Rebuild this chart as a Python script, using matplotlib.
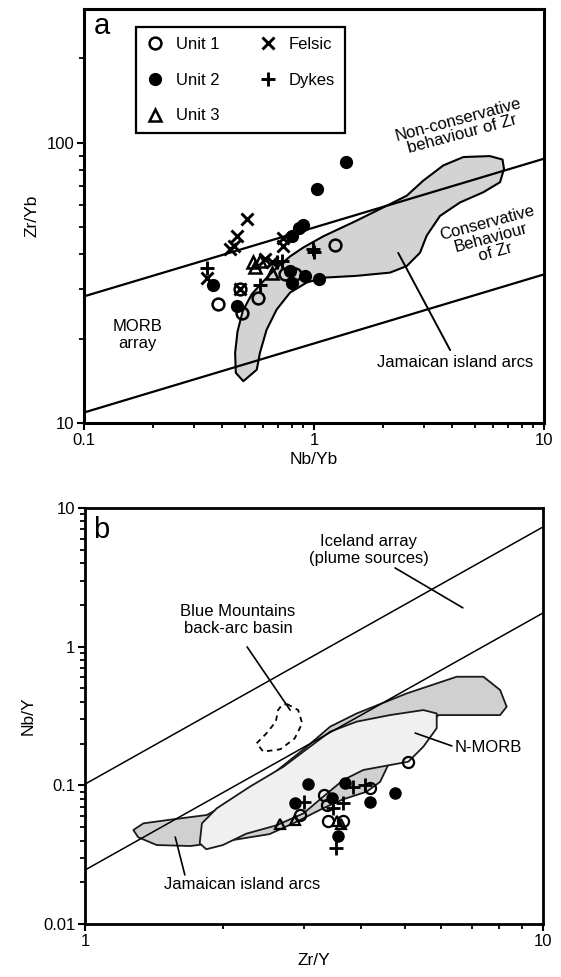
import matplotlib
matplotlib.use("Agg")
import matplotlib.pyplot as plt
from matplotlib.patches import Polygon
from matplotlib.ticker import FixedLocator, FixedFormatter, NullFormatter
import numpy as np

plt.rcParams['font.family'] = ['Liberation Sans', 'DejaVu Sans']

# ---------------- Panel a data: Nb/Yb vs Zr/Yb ----------------
a_unit1_x = [1.23, 0.384, 0.476, 0.485, 0.573, 0.748, 0.83]
a_unit1_y = [43.1, 26.5, 30.0, 24.7, 28.0, 33.9, 33.9]
a_unit2_x = [1.38, 1.03, 0.893, 0.863, 0.80, 0.365, 0.461, 0.787, 0.80, 0.914, 1.055]
a_unit2_y = [85.5, 68.4, 50.8, 49.6, 46.5, 31.2, 26.1, 34.8, 31.7, 33.5, 32.6]
a_unit3_x = [0.545, 0.555, 0.655, 0.58]
a_unit3_y = [37.4, 35.9, 34.4, 37.9]
a_felsic_x = [0.51, 0.461, 0.447, 0.43, 0.736, 0.736, 0.341, 0.612, 0.655, 0.476]
a_felsic_y = [53.4, 46.5, 42.8, 41.7, 45.9, 42.8, 33.0, 38.4, 37.4, 30.0]
a_dykes_x = [0.341, 0.993, 1.0, 0.58, 0.725, 0.69]
a_dykes_y = [35.8, 41.7, 40.6, 31.2, 37.9, 37.4]

a_line_x = [0.1, 10]
a_upper_y = [28.3, 87.7]
a_lower_y = [10.9, 33.9]

a_arc_x = [0.493, 0.564, 0.582, 0.622, 0.688, 0.787, 0.929, 1.098, 1.53, 2.14, 2.53,
           2.89, 3.09, 3.53, 4.31, 5.45, 6.44, 6.70, 6.60, 5.82, 4.46, 3.65, 2.99,
           2.53, 2.14, 1.53, 1.10, 0.899, 0.787, 0.688, 0.603, 0.536, 0.490, 0.465,
           0.454, 0.457]
a_arc_y = [14.1, 15.5, 17.8, 21.5, 25.4, 29.2, 31.7, 33.0, 33.5, 34.4, 36.3,
           40.5, 46.6, 54.8, 61.2, 66.6, 72.3, 80.7, 87.1, 89.6, 88.9, 83.0, 73.3,
           64.7, 60.4, 52.7, 46.4, 42.3, 39.3, 35.8, 32.1, 28.8, 25.1, 21.2,
           17.8, 15.1]

# ---------------- Panel b data: Zr/Y vs Nb/Y ----------------
b_unit1_x = [5.08, 4.19, 3.32, 3.37, 2.95, 3.40, 3.66]
b_unit1_y = [0.148, 0.095, 0.085, 0.072, 0.061, 0.055, 0.055]
b_unit2_x = [3.07, 3.70, 4.75, 4.19, 2.87, 3.46, 3.57]
b_unit2_y = [0.102, 0.104, 0.0885, 0.0763, 0.0741, 0.0805, 0.0431]
b_unit3_x = [2.66, 2.87, 3.63, 3.55]
b_unit3_y = [0.053, 0.056, 0.053, 0.055]
b_dykes_x = [3.85, 4.09, 3.0, 3.66, 3.54, 3.48]
b_dykes_y = [0.0977, 0.100, 0.0763, 0.074, 0.0351, 0.069]

b_line_x = [1, 10]
b_upper_y = [0.102, 7.3]
b_lower_y = [0.0245, 1.75]

b_arc_x = [1.275, 1.341, 1.559, 1.844, 2.18, 2.58, 3.05, 3.43, 3.92, 5.04, 6.48, 7.41,
           8.06, 8.33, 8.06, 7.04, 5.91, 5.12, 4.59, 4.41, 4.12, 3.66, 3.31, 2.90,
           2.53, 2.22, 2.00, 1.70, 1.434, 1.307]
b_arc_y = [0.0476, 0.0532, 0.0569, 0.0611, 0.0827, 0.122, 0.190, 0.265, 0.330, 0.460,
           0.607, 0.607, 0.487, 0.369, 0.321, 0.321, 0.321, 0.190, 0.140, 0.106,
           0.0899, 0.0793, 0.0683, 0.0547, 0.0445, 0.0415, 0.0392, 0.0365, 0.0371,
           0.0422]
b_morb_x = [1.78, 1.80, 1.94, 2.29, 2.71, 3.10, 3.43, 3.92, 4.63, 5.48, 5.86, 5.86,
            5.48, 5.08, 4.63, 4.05, 3.66, 3.31, 3.0, 2.62, 2.25, 2.00, 1.84]
b_morb_y = [0.0382, 0.0532, 0.0683, 0.0977, 0.136, 0.190, 0.244, 0.288, 0.321,
            0.349, 0.330, 0.258, 0.190, 0.148, 0.140, 0.129, 0.109, 0.0827, 0.0628,
            0.0515, 0.0448, 0.0371, 0.0346]
b_blue_x = [2.76, 2.92, 2.98, 2.87, 2.67, 2.45, 2.37, 2.49, 2.61, 2.64, 2.69]
b_blue_y = [0.386, 0.349, 0.280, 0.218, 0.182, 0.175, 0.201, 0.237, 0.288, 0.349, 0.379]

# ---------------- Figure ----------------
fig = plt.figure(figsize=(5.61, 9.77), dpi=100)
axa = fig.add_axes([84/561, 1-423/977, 460/561, 414/977])
axb = fig.add_axes([85/561, 1-924/977, 458/561, 416/977])

ms_c = 8.5
mew = 1.8
FS = 12


def style_axis(ax, spine_w):
    ax.set_xscale('log')
    ax.set_yscale('log')
    for s in ['left', 'bottom', 'top', 'right']:
        ax.spines[s].set_linewidth(spine_w)
        ax.spines[s].set_color('black')
    ax.tick_params(which='both', direction='out', top=False, right=False,
                   labelsize=12, colors='black', pad=2)
    ax.tick_params(which='major', length=5, width=1.5)
    ax.tick_params(which='minor', length=3.5, width=1.3)


# ---- panel a ----
style_axis(axa, 2.2)
axa.set_xlim(0.1, 10)
axa.set_ylim(10, 300)
axa.xaxis.set_major_locator(FixedLocator([0.1, 1, 10]))
axa.xaxis.set_major_formatter(FixedFormatter(['0.1', '1', '10']))
axa.xaxis.set_minor_locator(FixedLocator([0.2, 0.3, 0.4, 0.5, 0.6, 0.7, 0.8, 0.9,
                                          2, 3, 4, 5, 6, 7, 8, 9]))
axa.xaxis.set_minor_formatter(NullFormatter())
axa.yaxis.set_major_locator(FixedLocator([10, 100]))
axa.yaxis.set_major_formatter(FixedFormatter(['10', '100']))
axa.yaxis.set_minor_locator(FixedLocator([20, 30, 40, 50, 60, 70, 80, 90, 200]))
axa.yaxis.set_minor_formatter(NullFormatter())

axa.add_patch(Polygon(np.column_stack([a_arc_x, a_arc_y]), closed=True,
                      facecolor='#d3d3d3', edgecolor='black', lw=1.5,
                      joinstyle='round', zorder=2))
axa.plot(a_line_x, a_upper_y, color='black', lw=1.6, zorder=3)
axa.plot(a_line_x, a_lower_y, color='black', lw=1.6, zorder=3)

hu1, = axa.plot(a_unit1_x, a_unit1_y, 'o', ms=ms_c, mfc='none', mec='black', mew=mew,
                ls='none', zorder=5, label='Unit 1')
hu2, = axa.plot(a_unit2_x, a_unit2_y, 'o', ms=ms_c, mfc='black', mec='black', mew=1,
                ls='none', zorder=5, label='Unit 2')
hu3, = axa.plot(a_unit3_x, a_unit3_y, '^', ms=ms_c, mfc='none', mec='black', mew=mew,
                ls='none', zorder=5, label='Unit 3')
hfe, = axa.plot(a_felsic_x, a_felsic_y, 'x', ms=ms_c, mec='black', mew=2.1,
                ls='none', zorder=5, label='Felsic')
hdy, = axa.plot(a_dykes_x, a_dykes_y, '+', ms=9.5, mec='black', mew=2.1,
                ls='none', zorder=5, label='Dykes')

leg = axa.legend(handles=[hu1, hu2, hu3, hfe, hdy], ncol=2, loc='upper left',
                 bbox_to_anchor=(0.114, 0.957), fontsize=FS, frameon=True,
                 fancybox=False, edgecolor='black', framealpha=1,
                 handlelength=1.0, handletextpad=0.75, columnspacing=2.4,
                 labelspacing=1.25, borderpad=0.6, borderaxespad=0)
leg.get_frame().set_linewidth(1.6)

axa.text(0.038, 0.958, 'a', transform=axa.transAxes, fontsize=21,
         ha='center', va='center')
axa.text(0.817, 0.715, 'Non-conservative\nbehaviour of Zr', transform=axa.transAxes,
         fontsize=FS, ha='center', va='center', rotation=15, linespacing=1.0)
axa.text(0.885, 0.447, 'Conservative\nBehaviour\nof Zr', transform=axa.transAxes,
         fontsize=FS, ha='center', va='center', rotation=15, linespacing=1.0)
axa.text(0.117, 0.213, 'MORB\narray', transform=axa.transAxes,
         fontsize=FS, ha='center', va='center', linespacing=1.15)
axa.text(0.807, 0.147, 'Jamaican island arcs', transform=axa.transAxes,
         fontsize=FS, ha='center', va='center')
axa.annotate('', xy=(0.683, 0.411), xytext=(0.796, 0.176), xycoords='axes fraction',
             textcoords='axes fraction',
             arrowprops=dict(arrowstyle='-', color='black', lw=1.4, shrinkA=0, shrinkB=0))
axa.set_xlabel('Nb/Yb', fontsize=12.5, labelpad=3)
axa.set_ylabel('Zr/Yb', fontsize=12.5, labelpad=5)

# ---- panel b ----
style_axis(axb, 2.0)
axb.set_xlim(1, 10)
axb.set_ylim(0.01, 10)
axb.xaxis.set_major_locator(FixedLocator([1, 10]))
axb.xaxis.set_major_formatter(FixedFormatter(['1', '10']))
axb.xaxis.set_minor_locator(FixedLocator([2, 3, 4, 5, 6, 7, 8, 9]))
axb.xaxis.set_minor_formatter(NullFormatter())
axb.yaxis.set_major_locator(FixedLocator([0.01, 0.1, 1, 10]))
axb.yaxis.set_major_formatter(FixedFormatter(['0.01', '0.1', '1', '10']))
minors_b = [m * d for d in [0.01, 0.1, 1] for m in range(2, 10)]
axb.yaxis.set_minor_locator(FixedLocator(minors_b))
axb.yaxis.set_minor_formatter(NullFormatter())

axb.add_patch(Polygon(np.column_stack([b_arc_x, b_arc_y]), closed=True,
                      facecolor='#d0d0d0', edgecolor='#1a1a1a', lw=1.3,
                      joinstyle='round', zorder=2))
axb.add_patch(Polygon(np.column_stack([b_morb_x, b_morb_y]), closed=True,
                      facecolor='#f0f0f0', edgecolor='#1a1a1a', lw=1.3,
                      joinstyle='round', zorder=3))
axb.add_patch(Polygon(np.column_stack([b_blue_x, b_blue_y]), closed=True,
                      facecolor='none', edgecolor='black', lw=1.3, ls=(0, (3, 2.5)),
                      zorder=3))
axb.plot(b_line_x, b_upper_y, color='black', lw=1.1, zorder=4)
axb.plot(b_line_x, b_lower_y, color='black', lw=1.1, zorder=4)

axb.plot(b_unit1_x, b_unit1_y, 'o', ms=8, mfc='none', mec='black', mew=1.6,
         ls='none', zorder=5)
axb.plot(b_unit2_x, b_unit2_y, 'o', ms=8, mfc='black', mec='black', mew=1,
         ls='none', zorder=5)
axb.plot(b_unit3_x, b_unit3_y, '^', ms=7.5, mfc='none', mec='black', mew=1.6,
         ls='none', zorder=5)
axb.plot(b_dykes_x, b_dykes_y, '+', ms=9.5, mec='black', mew=2.0,
         ls='none', zorder=5)

axb.text(0.036, 0.947, 'b', transform=axb.transAxes, fontsize=21,
         ha='center', va='center')
axb.text(0.620, 0.899, 'Iceland array\n(plume sources)', transform=axb.transAxes,
         fontsize=FS, ha='center', va='center', linespacing=1.15)
axb.annotate('', xy=(0.825, 0.760), xytext=(0.677, 0.856), xycoords='axes fraction',
             textcoords='axes fraction',
             arrowprops=dict(arrowstyle='-', color='black', lw=1.2, shrinkA=0, shrinkB=0))
axb.text(0.334, 0.731, 'Blue Mountains\nback-arc basin', transform=axb.transAxes,
         fontsize=FS, ha='center', va='center', linespacing=1.15)
axb.annotate('', xy=(0.448, 0.514), xytext=(0.354, 0.666), xycoords='axes fraction',
             textcoords='axes fraction',
             arrowprops=dict(arrowstyle='-', color='black', lw=1.2, shrinkA=0, shrinkB=0))
axb.text(0.808, 0.425, 'N-MORB', transform=axb.transAxes,
         fontsize=FS, ha='left', va='center')
axb.annotate('', xy=(0.801, 0.428), xytext=(0.721, 0.459), xycoords='axes fraction',
             textcoords='axes fraction',
             arrowprops=dict(arrowstyle='-', color='black', lw=1.2, shrinkA=0, shrinkB=0))
axb.text(0.343, 0.094, 'Jamaican island arcs', transform=axb.transAxes,
         fontsize=FS, ha='center', va='center')
axb.annotate('', xy=(0.197, 0.209), xytext=(0.218, 0.118), xycoords='axes fraction',
             textcoords='axes fraction',
             arrowprops=dict(arrowstyle='-', color='black', lw=1.2, shrinkA=0, shrinkB=0))
axb.set_xlabel('Zr/Y', fontsize=12.5, labelpad=3)
axb.set_ylabel('Nb/Y', fontsize=12.5, labelpad=5)

fig.savefig('out.png', dpi=100)
